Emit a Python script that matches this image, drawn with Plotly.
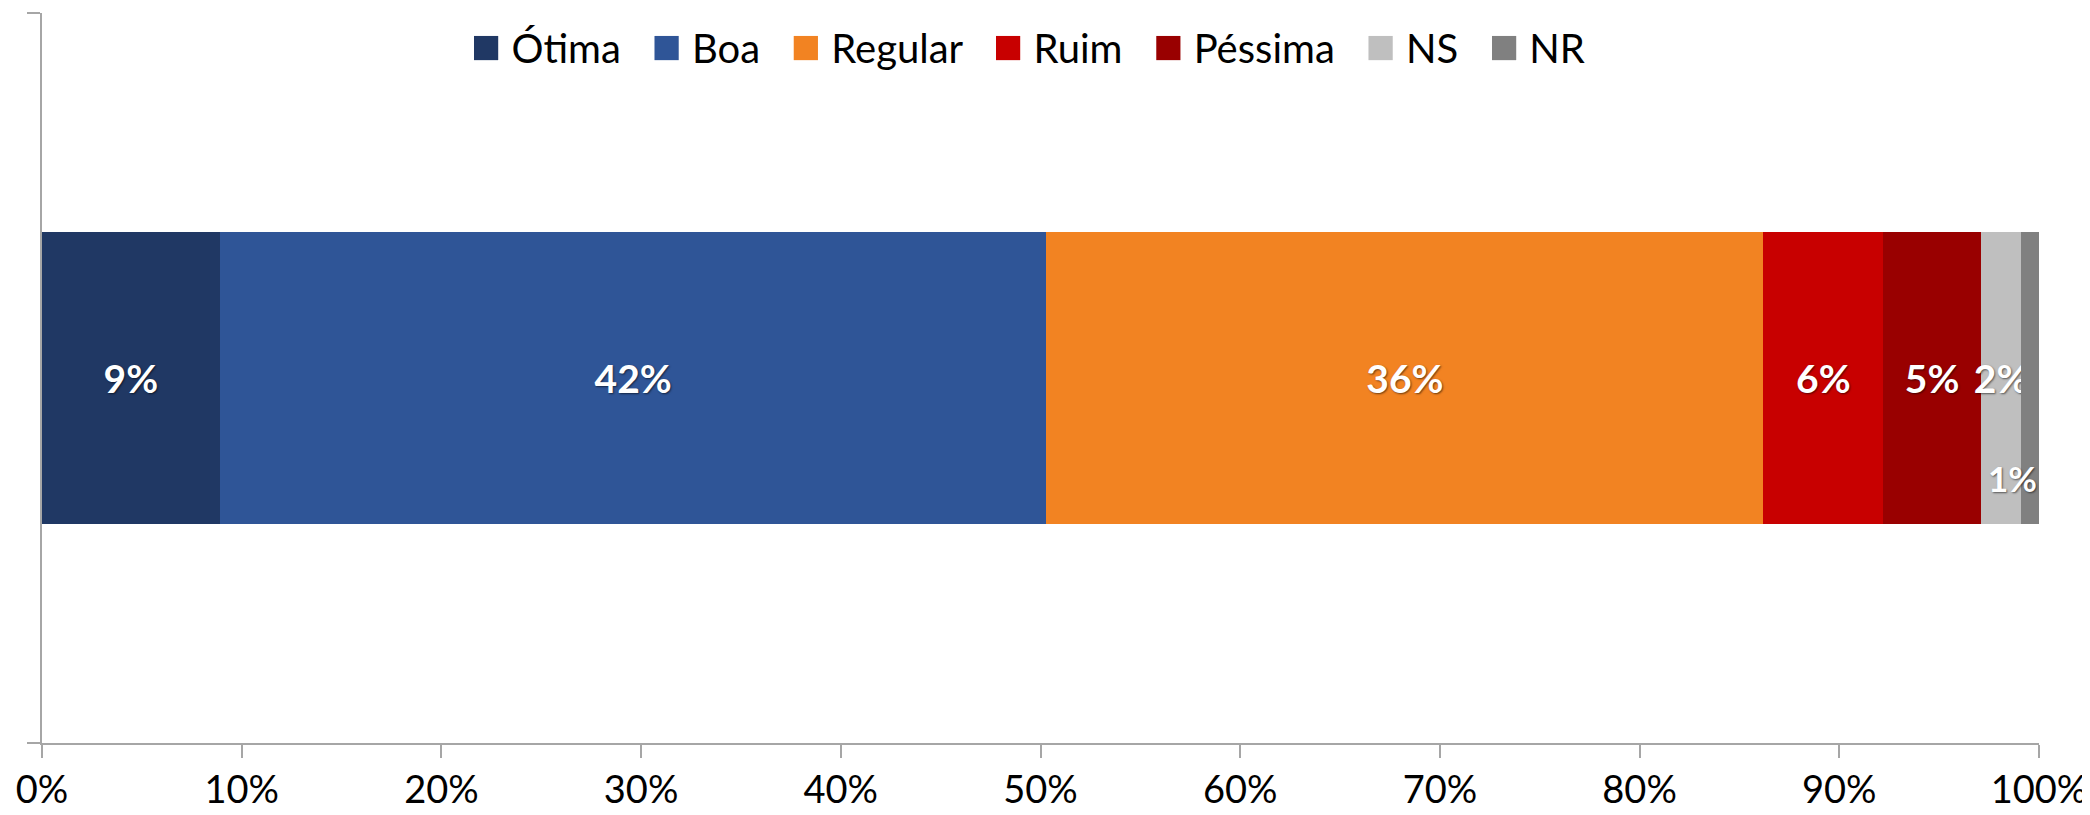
import plotly.graph_objects as go

# respostas (percentual)
categories = ["Ótima", "Boa", "Regular", "Ruim", "Péssima", "NS", "NR"]
values = [8.9, 41.4, 35.9, 6.0, 4.9, 2.0, 0.9]
labels = ["9%", "42%", "36%", "6%", "5%", "2%", "1%"]
colors = ["#203864", "#2F5597", "#F28322", "#C80000", "#990000", "#BFBFBF", "#808080"]
tick_vals = list(range(0, 101, 10))
tick_text = [f"{v}%" for v in tick_vals]

FONT = "Lato"
SHADOW = "1px 1px 2px rgba(0,0,0,0.55)"
AXIS_GRAY = "#A6A6A6"

fig = go.Figure()

for name, val, lab, col in zip(categories, values, labels, colors):
    fig.add_trace(go.Bar(
        x=[val],
        y=[0],
        orientation="h",
        name=name,
        marker=dict(color=col, line=dict(width=0)),
        width=0.4,
        text=[lab if name != "NR" else ""],
        textposition="inside",
        insidetextanchor="middle",
        textangle=0,
        constraintext="none",
        insidetextfont=dict(family=FONT, size=39, color="white", weight="bold", shadow=SHADOW),
        hoverinfo="skip",
        showlegend=False,
    ))

# rótulo do NR fica abaixo, fora do centro
fig.add_annotation(
    x=sum(values) - values[-1] / 2,
    y=0,
    xref="x",
    yref="y",
    text=labels[-1],
    showarrow=False,
    xshift=-18,
    yshift=-100,
    font=dict(family=FONT, size=35, color="white", weight="bold", shadow=SHADOW),
)

# legenda com quadrados grandes, como no Excel
sep = "&nbsp;" * 3
legend_text = sep.join(
    f"<span style='color:{c};font-size:50px'>■</span>&nbsp;{n}" for n, c in zip(categories, colors)
)
fig.add_annotation(
    x=0.4937,
    y=0.958,
    xref="paper",
    yref="paper",
    xanchor="center",
    yanchor="middle",
    text=legend_text,
    showarrow=False,
    font=dict(family=FONT, size=40, color="black"),
)

# a página tem 8px de margem no body: a figura é um pouco menor
fig.update_layout(
    barmode="stack",
    width=2082,
    height=807,
    margin=dict(l=34, r=51, t=5, b=72, autoexpand=False),
    plot_bgcolor="white",
    paper_bgcolor="white",
    font=dict(family=FONT, size=40, color="black"),
    showlegend=False,
)

fig.update_xaxes(
    range=[0, 100],
    tickvals=tick_vals,
    ticktext=tick_text,
    ticks="outside",
    ticklen=13,
    tickcolor=AXIS_GRAY,
    tickwidth=1.5,
    ticklabelstandoff=0,
    showline=True,
    linecolor=AXIS_GRAY,
    linewidth=1.5,
    showgrid=False,
    zeroline=False,
    automargin=False,
    tickfont=dict(family=FONT, size=38, color="black"),
)

fig.update_yaxes(
    range=[-0.5, 0.5],
    tickvals=[-0.5, 0.5],
    ticks="outside",
    ticklen=13,
    tickcolor=AXIS_GRAY,
    tickwidth=1.5,
    showticklabels=False,
    showline=True,
    linecolor=AXIS_GRAY,
    linewidth=1.5,
    showgrid=False,
    zeroline=False,
    automargin=False,
)

fig.write_html("out.html")
